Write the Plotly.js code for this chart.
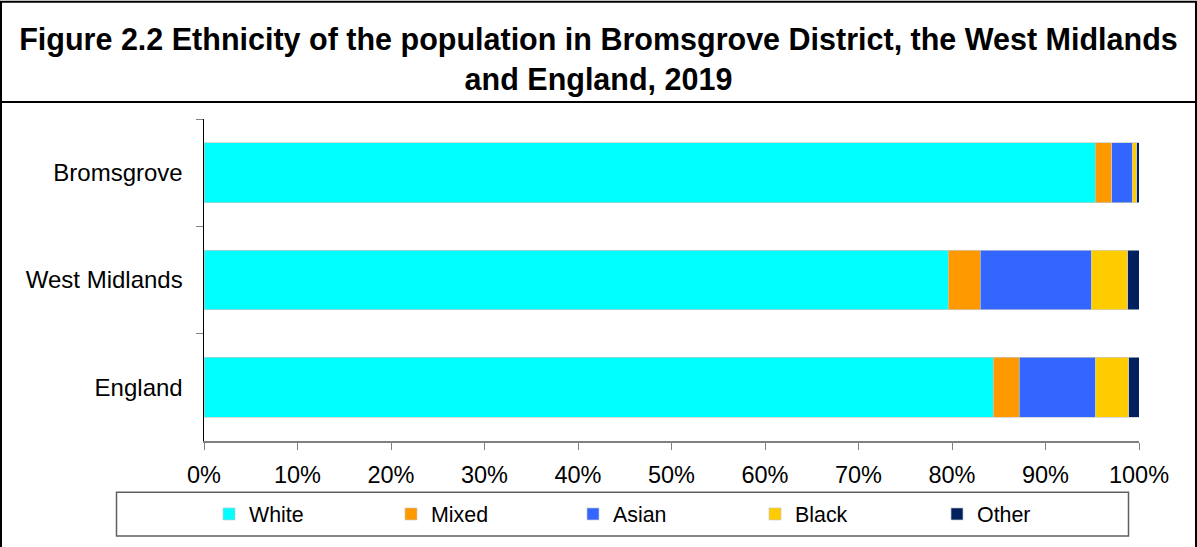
<!DOCTYPE html>
<html>
<head>
<meta charset="utf-8">
<script src="https://cdn.plot.ly/plotly-3.0.1.min.js"></script>
<style>html,body{margin:0;padding:0;background:#fff;}#chart{width:1197px;height:547px;}</style>
</head>
<body>
<div id="chart"></div>
<script>
const areas = ['Bromsgrove', 'West Midlands', 'England'];
const white = [95.3, 79.6, 84.4];
const mixed = [1.8, 3.4, 2.8];
const asian = [2.2, 11.9, 8.1];
const black = [0.45, 3.9, 3.6];
const other = [0.25, 1.2, 1.1];
const seriesNames = ['White', 'Mixed', 'Asian', 'Black', 'Other'];
const seriesColors = ['#00FFFF', '#FF9900', '#3366FF', '#FFCC00', '#002060'];
const titleText = 'Figure 2.2 Ethnicity of the population in Bromsgrove District, the West Midlands<br>and England, 2019';

const FONT = 'Arial, "Liberation Sans", sans-serif';
const seriesValues = [white, mixed, asian, black, other];
const traces = seriesValues.map((vals, i) => ({
  type: 'bar',
  orientation: 'h',
  name: seriesNames[i],
  y: areas,
  x: vals,
  marker: {color: seriesColors[i], line: {color: 'rgba(200,200,200,0.9)', width: 0.75}},
  hoverinfo: 'none'
}));

const W = 1197, H = 547;
const L = 204, R = 58, T = 119, B = 104;
const pw = W - L - R, ph = H - T - B;
const px = v => (v - L) / pw;
const py = v => (H - B - v) / ph;

const layout = {
  width: W, height: H,
  margin: {l: L, r: R, t: T, b: B, pad: 0},
  paper_bgcolor: '#ffffff',
  plot_bgcolor: '#ffffff',
  barmode: 'stack',
  bargap: 0.444,
  showlegend: true,
  font: {family: FONT, color: '#000000'},
  title: {
    text: titleText,
    font: {family: FONT, size: 30.5, color: '#000000', weight: 'bold'},
    x: 0.5, xref: 'container', xanchor: 'center',
    y: 1 - 50 / H, yref: 'container', yanchor: 'top'
  },
  xaxis: {
    range: [0, 100],
    dtick: 10,
    ticksuffix: '%',
    ticks: 'outside', ticklen: 7, tickcolor: '#808080', tickwidth: 1,
    showline: true, linecolor: '#808080', linewidth: 1.5,
    showgrid: false, zeroline: false,
    ticklabelstandoff: 5,
    tickfont: {family: FONT, size: 23.5, color: '#000000'},
    fixedrange: true
  },
  yaxis: {
    type: 'category',
    range: [2.5, -0.5],
    tickson: 'boundaries',
    ticks: 'outside', ticklen: 7, tickcolor: '#808080', tickwidth: 1,
    showline: true, linecolor: '#000000', linewidth: 1.5,
    showgrid: false, zeroline: false,
    ticklabelstandoff: 15,
    tickfont: {family: FONT, size: 24, color: '#000000'},
    fixedrange: true
  },
  legend: {
    orientation: 'h',
    x: px(209), xanchor: 'left',
    y: py(516.5), yanchor: 'middle',
    entrywidth: 137,
    bgcolor: 'rgba(0,0,0,0)',
    borderwidth: 0,
    font: {family: FONT, size: 21.4, color: '#000000'},
    traceorder: 'normal'
  },
  shapes: [
    {type: 'rect', xref: 'paper', yref: 'paper', x0: px(1), x1: px(1196), y0: py(560), y1: py(1),
     line: {color: '#000000', width: 2}, fillcolor: 'rgba(0,0,0,0)', layer: 'above'},
    {type: 'line', xref: 'paper', yref: 'paper', x0: px(1), x1: px(1196), y0: py(102), y1: py(102),
     line: {color: '#000000', width: 2}, layer: 'above'},
    {type: 'rect', xref: 'paper', yref: 'paper', x0: px(116.5), x1: px(1128.5), y0: py(538.5), y1: py(494.5),
     line: {color: '#606060', width: 1.5}, fillcolor: 'rgba(0,0,0,0)', layer: 'above'}
  ]
};

Plotly.newPlot('chart', traces, layout, {displayModeBar: false, staticPlot: true});
</script>
</body>
</html>
